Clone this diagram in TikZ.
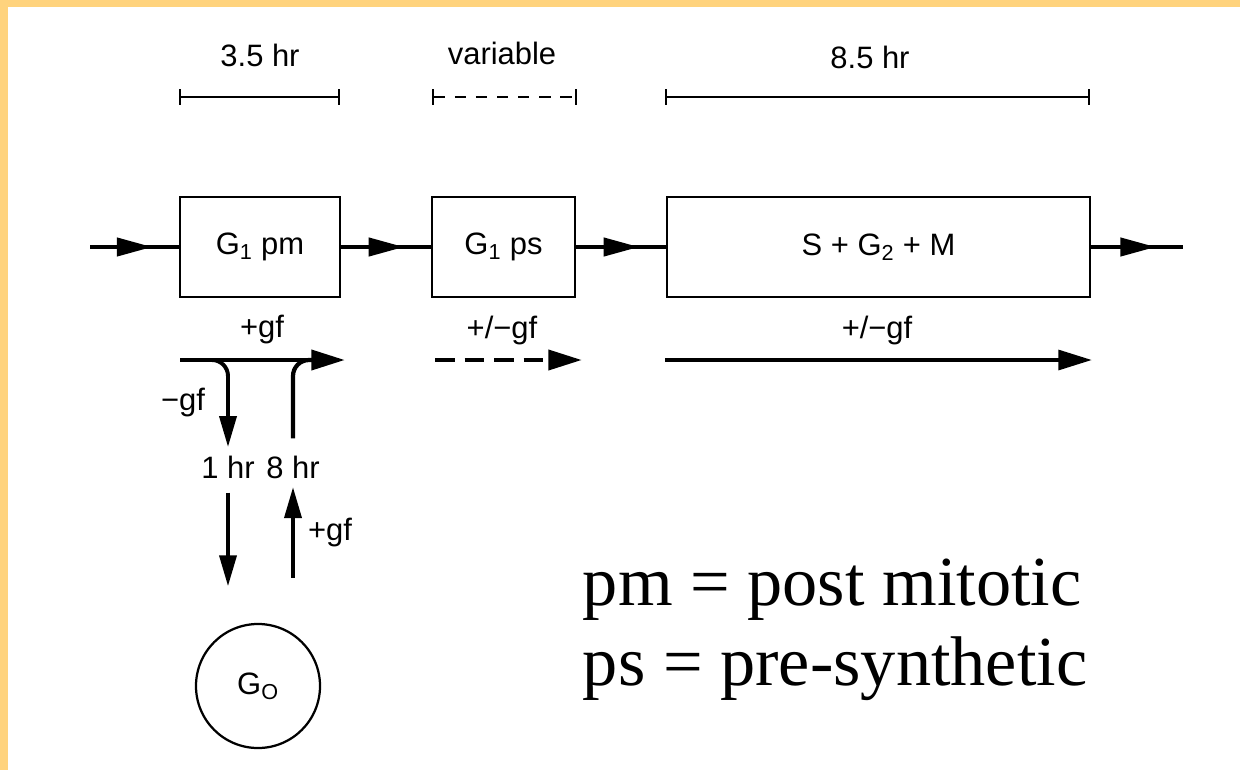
\documentclass[tikz,border=0pt]{standalone}
\usepackage{fontspec}
\setmainfont{Liberation Serif}
\setsansfont{Liberation Sans}
\usetikzlibrary{arrows.meta,positioning,calc,decorations.markings}
\definecolor{framecol}{RGB}{255,211,125}

\begin{document}
\begin{tikzpicture}[
    x=0.025cm, y=-0.025cm,
    font=\sffamily\fontsize{22}{26}\selectfont,
    phase/.style={rectangle, draw, line width=2pt, minimum height=2.5cm, inner sep=0pt},
    flow/.style={line width=2.4pt, postaction={decorate},
        decoration={markings, mark=at position 0.7 with {\arrow{Triangle[length=25pt,width=13pt]}}}},
    span/.style={line width=1.7pt, {Bar[width=11pt]}-{Bar[width=11pt]}},
    gf/.style={line width=3.5pt, -{Triangle[length=24pt,width=14pt]}},
    gfline/.style={line width=3pt},
    hrs/.style={line width=2.8pt, -{Triangle[length=22pt,width=12pt]}},
    lbl/.style={inner sep=2pt}
]
% frame
\fill[framecol] (0,0) rectangle (1240,770);
\fill[white] (8,7) rectangle (1240,770);
\useasboundingbox (0,0) rectangle (1240,770);

% phases
\node[phase, minimum width=4cm] (pm) at (260,247) {G\textsubscript{1} pm};
\node[phase, minimum width=3.575cm] (ps) at (503.5,247) {G\textsubscript{1} ps};
\node[phase, minimum width=10.575cm] (sgm) at (878.5,247) {S + G\textsubscript{2} + M};
\coordinate (in) at (90,247);
\coordinate (out) at (1183,247);

\draw[flow] (in) -- (pm);
\draw[flow] (pm) -- (ps);
\draw[flow] (ps) -- (sgm);
\draw[flow] (sgm) -- (out);

% durations
\node (t1) at (260,55) {3.5 hr};
\node (t2) at (502,53) {variable};
\node (t3) at (870,57) {8.5 hr};
\coordinate (b1a) at (179,97);
\coordinate (b1b) at (340,97);
\coordinate (b2a) at (432,97);
\coordinate (b2b) at (577,97);
\coordinate (b3a) at (665,97);
\coordinate (b3b) at (1090,97);
\draw[span] (b1a) -- (b1b);
\draw[span, dash pattern=on 8pt off 7pt] (b2a) -- (b2b);
\draw[span] (b3a) -- (b3b);

% growth factor
\node (gf1) at (262,330) {+gf};
\node (gf2) at (502,330) {+/−gf};
\node (gf3) at (877,330) {+/−gf};
\coordinate (g1a) at (180,360);
\coordinate (g1b) at (345,360);
\coordinate (g2a) at (435,360);
\coordinate (g2b) at (582,360);
\coordinate (g3a) at (665,360);
\coordinate (g3b) at (1092,360);
\draw[gf] (g1a) -- (g1b);
\draw[gf, dash pattern=on 14pt off 7pt] (g2a) -- (g2b);
\draw[gf, line width=3pt] (g3a) -- (g3b);

% exit to G0 and return
\node[lbl] (hr1) at (228,467) {1 hr};
\node[lbl] (hr8) at (293,467) {8 hr};
\node[circle, draw, line width=1.6pt, minimum size=3.1cm, inner sep=0pt] (g0) at (258,686) {G\textsubscript{O}};
\coordinate (split) at (200,360);
\coordinate (merge) at (320,360);
\draw[hrs, rounded corners=0.4cm, shorten >=4pt] (split) -| (hr1.north);
\draw[gfline, rounded corners=0.4cm, shorten <=10pt] (hr8.north) |- (merge);
\draw[hrs, shorten <=8pt, shorten >=26pt] (hr1.south) -- (hr1.south |- g0.north);
\draw[hrs, shorten <=32pt, shorten >=4pt] (hr8.south |- g0.north) -- (hr8.south);
\node (minus) at (183,403) {−gf};
\node (plus) at (330,533) {+gf};

% legend
\node[anchor=west, align=left, font=\rmfamily\fontsize{50}{57}\selectfont] (legend) at (578,630)
    {pm = post mitotic\\ps = pre-synthetic};
\end{tikzpicture}
\end{document}
